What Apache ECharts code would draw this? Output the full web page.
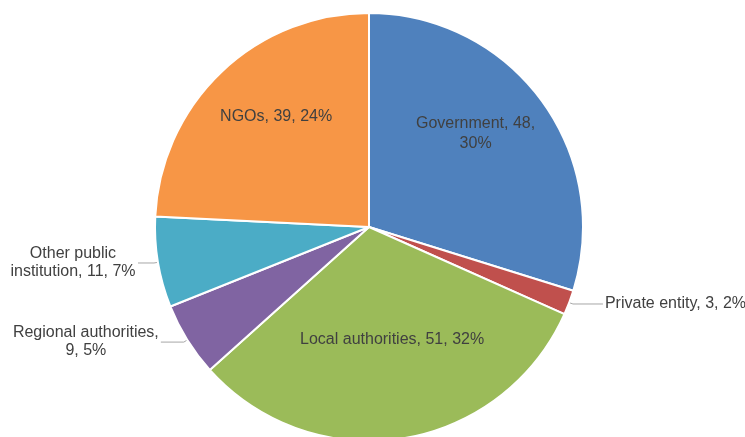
<!DOCTYPE html>
<html>
<head>
<meta charset="utf-8">
<script src="https://cdn.jsdelivr.net/npm/echarts@6/dist/echarts.min.js"></script>
<style>
  html, body { margin: 0; padding: 0; background: #fff; }
  #main { width: 745px; height: 437px; }
</style>
</head>
<body>
<div id="main"></div>
<script>
// data
const categories = ['Government', 'Private entity', 'Local authorities', 'Regional authorities', 'Other public institution', 'NGOs']
const values = [48, 3, 51, 9, 11, 39]
const colors = ['#4F81BD', '#C0504D', '#9BBB59', '#8064A2', '#4BACC6', '#F79646']

// label placement per slice (inside labels nudged like the original)
const labelStyle = {
  'Government': { position: 'inside', formatter: '{b}, {c},\n{d}%', shift: [18, -28] },
  'Private entity': { position: 'outside', formatter: '{b}, {c}, {d}%', line2: 30 },
  'Local authorities': { position: 'inside', formatter: '{b}, {c}, {d}%', shift: [6, 4] },
  'Regional authorities': { position: 'outside', formatter: '{t|{b},}\n{t|{c}, {d}%}', boxWidth: 146, line2: 23 },
  'Other public institution': { position: 'outside', formatter: '{t|Other public}\n{t|institution, {c}, {d}%}', boxWidth: 126, line2: 16 },
  'NGOs': { position: 'inside', formatter: '{b}, {c}, {d}%', shift: [-17, -31] }
}

const textFont = 'Liberation Sans, Arial, sans-serif'

const seriesData = categories.map(function (name, i) {
  const s = labelStyle[name]
  const item = {
    name: name,
    value: values[i],
    itemStyle: { color: colors[i] },
    label: { position: s.position, formatter: s.formatter }
  }
  if (s.boxWidth) {
    item.label.rich = { t: { width: s.boxWidth, align: 'center', fontSize: 16, color: '#404040', lineHeight: 18, fontFamily: textFont } }
  }
  if (s.line2) {
    item.labelLine = { length2: s.line2 }
  }
  return item
})

const option = {
  animation: false,
  series: [
    {
      type: 'pie',
      center: [369, 227],
      radius: [0, 214],
      startAngle: 90,
      clockwise: true,
      percentPrecision: 0,
      avoidLabelOverlap: false,
      itemStyle: { borderColor: '#fff', borderWidth: 2 },
      label: {
        color: '#404040',
        fontSize: 16,
        lineHeight: 20,
        fontFamily: textFont,
        distanceToLabelLine: 2,
        bleedMargin: 0,
        overflow: 'none'
      },
      labelLine: {
        show: true,
        length: 4,
        length2: 24,
        lineStyle: { color: '#A6A6A6', width: 1 }
      },
      labelLayout: function (params) {
        const s = labelStyle[categories[params.dataIndex]]
        if (s && s.shift) {
          return { dx: s.shift[0], dy: s.shift[1] }
        }
        return {}
      },
      data: seriesData
    }
  ]
}

echarts.init(document.getElementById('main')).setOption(option)
</script>
</body>
</html>
